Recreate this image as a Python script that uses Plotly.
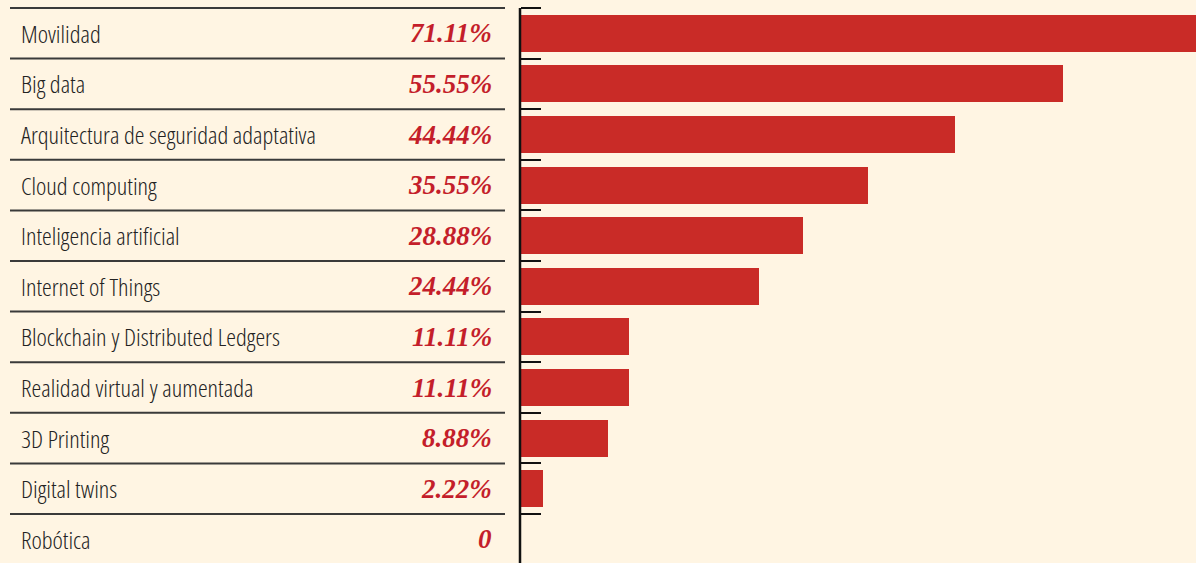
import plotly.graph_objects as go

categories = ["Movilidad", "Big data", "Arquitectura de seguridad adaptativa", "Cloud computing",
              "Inteligencia artificial", "Internet of Things", "Blockchain y Distributed Ledgers",
              "Realidad virtual y aumentada", "3D Printing", "Digital twins", "Robótica"]
values = [71.11, 55.55, 44.44, 35.55, 28.88, 24.44, 11.11, 11.11, 8.88, 2.22, 0]
value_labels = ["71.11%", "55.55%", "44.44%", "35.55%", "28.88%", "24.44%", "11.11%",
                "11.11%", "8.88%", "2.22%", "0"]

W, H = 1196, 563
BG = "#FFF5E3"
BAR = "#C92B27"
RED_TXT = "#C41E2A"

n = len(categories)
ypos = list(range(n))
row_px = 50.6
top_px = 8
y_top = -0.5 - top_px / row_px
y_bot = y_top + H / row_px

fig = go.Figure()
fig.add_trace(go.Bar(
    x=values, y=ypos, orientation="h", marker=dict(color=BAR, line=dict(width=0)),
    width=0.73, hoverinfo="skip", showlegend=False,
))

shapes = []
for i in range(n):
    shapes.append(dict(type="line", xref="paper", yref="y",
                       x0=10 / W, x1=505 / W, y0=i - 0.5, y1=i - 0.5,
                       line=dict(color="#3a3a3a", width=2)))
shapes.append(dict(type="line", xref="paper", yref="y",
                   x0=520 / W, x1=520 / W, y0=-0.5, y1=y_bot + 1,
                   line=dict(color="#111111", width=2.5)))

annotations = []
for i, (c, v) in enumerate(zip(categories, value_labels)):
    annotations.append(dict(xref="paper", yref="y", x=19 / W, y=i,
                            text='<span style="font-stretch:condensed">' + c + '</span>',
                            xanchor="left", yanchor="middle", showarrow=False,
                            font=dict(family="Open Sans, sans-serif", weight=300,
                                      size=24.6, color="#222222")))
    annotations.append(dict(xref="paper", yref="y", x=494 / W, y=i,
                            text="<b><i>" + v + "</i></b>",
                            xanchor="right", yanchor="middle", showarrow=False,
                            font=dict(family="Liberation Serif, Times New Roman, serif",
                                      size=27, color=RED_TXT)))

fig.update_layout(
    width=W, height=H, autosize=False,
    margin=dict(l=0, r=0, t=0, b=0),
    paper_bgcolor=BG, plot_bgcolor=BG,
    shapes=shapes, annotations=annotations,
    xaxis=dict(domain=[521 / W, 1], range=[0, (W - 521) / 9.757], visible=False, fixedrange=True),
    yaxis=dict(range=[y_bot, y_top], showgrid=False, zeroline=False, showticklabels=False,
               tickmode="array", tickvals=[i - 0.5 for i in range(n)],
               ticks="inside", ticklen=20, tickwidth=1.5, tickcolor="#111111",
               showline=False, fixedrange=True),
    bargap=0,
)

fig.write_html("out.html", config={"displayModeBar": False},
               post_script="document.body.style.margin='0';document.body.style.overflow='hidden';")
